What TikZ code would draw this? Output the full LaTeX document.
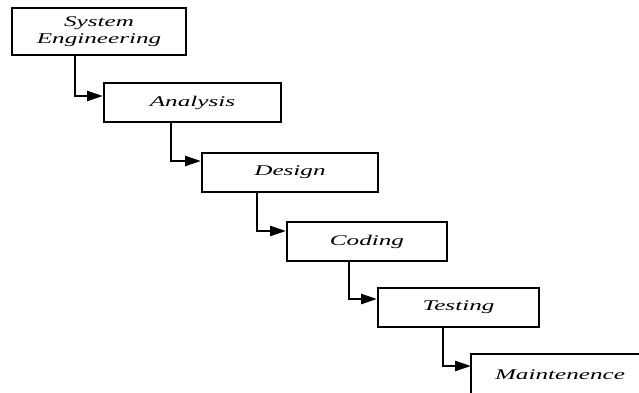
\documentclass[tikz,border=0pt]{standalone}
\usepackage{fontspec}
\setmainfont{Liberation Serif}[FakeStretch=1.7]
\usetikzlibrary{arrows.meta}
\begin{document}
\begin{tikzpicture}[x=0.5pt,y=-0.5pt,
  fase/.style={draw,line width=1pt,inner sep=0pt,minimum height=19.5pt,
    font=\fontsize{7.4}{8.5}\selectfont\itshape,align=center},
  fluxo/.style={line width=1.2pt,-{Triangle[length=8pt,width=5pt]}}]
  \useasboundingbox (0,0) rectangle (639,392);

  \draw node[fase,minimum width=87pt,minimum height=23.5pt] (sys) at (99,31.5) {System\\Engineering};
  \draw node[fase,minimum width=88.5pt] (ana) at (192.5,102.5) {Analysis};
  \draw node[fase,minimum width=88pt] (des) at (290,172.5) {Design};
  \draw node[fase,minimum width=80pt] (cod) at (367,241.5) {Coding};
  \draw node[fase,minimum width=80.5pt] (tes) at (458.5,307.5) {Testing};
  \draw node[fase,draw=none,minimum width=88pt,minimum height=20pt] (mai) at (560,375) {Maintenence};
  \draw[line width=1pt] (mai.north east) -- (mai.north west) -- (mai.south west) -- (mai.south east);

  \draw[fluxo] ([xshift=32pt]sys.south west) |- ([yshift=-7pt]ana.north west);
  \draw[fluxo] ([xshift=34pt]ana.south west) |- ([yshift=-4.5pt]des.north west);
  \draw[fluxo] ([xshift=28pt]des.south west) |- ([yshift=-5pt]cod.north west);
  \draw[fluxo] ([xshift=31.5pt]cod.south west) |- ([yshift=-6pt]tes.north west);
  \draw[fluxo] ([xshift=33pt]tes.south west) |- ([yshift=-6pt]mai.north west);

\end{tikzpicture}
\end{document}
